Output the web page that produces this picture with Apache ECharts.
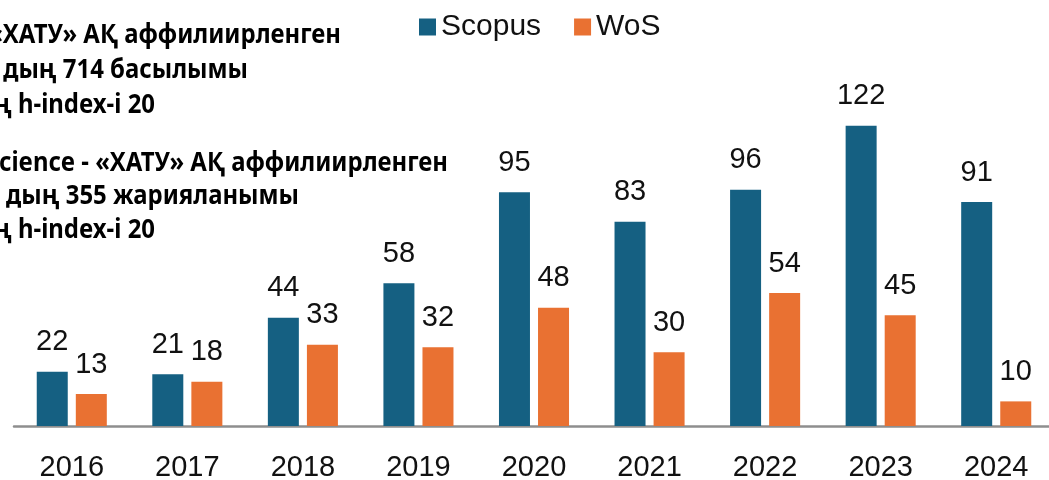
<!DOCTYPE html>
<html>
<head>
<meta charset="utf-8">
<script src="https://cdn.jsdelivr.net/npm/echarts@6/dist/echarts.min.js"></script>
<style>
  html, body { margin: 0; padding: 0; background: #fff; }
  #chart { width: 1049px; height: 480px; }
</style>
</head>
<body>
<div id="chart"></div>
<script>
var years = ["2016", "2017", "2018", "2019", "2020", "2021", "2022", "2023", "2024"];
var scopus = [22, 21, 44, 58, 95, 83, 96, 122, 91];
var wos = [13, 18, 33, 32, 48, 30, 54, 45, 10];

// text block on the left (cut off at the left edge in the original)
var noteScopus = ["«ХАТУ» АҚ аффилиирленген", "дың 714 басылымы", "ң h-index-i 20"];
var noteWos = ["cience - «ХАТУ» АҚ аффилиирленген", "дың 355 жарияланымы", "ң h-index-i 20"];

var chart = echarts.init(document.getElementById("chart"));

function noteText(text, right, y) {
  return {
    type: "text",
    x: right,
    y: y,
    scaleX: 0.92,
    style: {
      text: text,
      font: 'bold 26px "Noto Sans"',
      fill: "#000",
      textAlign: "right",
      align: "right",
      textVerticalAlign: "middle",
      verticalAlign: "middle"
    }
  };
}

var labelStyle = {
  show: true,
  position: "top",
  distance: 15,
  fontSize: 29,
  fontFamily: "Liberation Sans",
  color: "#111"
};

var option = {
  animation: false,
  textStyle: { fontFamily: "Liberation Sans" },
  legend: {
    left: 419,
    top: 12,
    padding: 0,
    itemWidth: 17,
    itemHeight: 17,
    itemGap: 33,
    icon: "rect",
    textStyle: { fontSize: 30, color: "#111", fontFamily: "Liberation Sans" },
    data: ["Scopus", "WoS"]
  },
  grid: {
    left: 14, right: -5, top: 81.4, bottom: 54,
    containLabel: false,
    outerBoundsMode: "none"
  },
  xAxis: {
    type: "category",
    data: years,
    axisLine: { lineStyle: { color: "#8e8e8e", width: 2.5 } },
    axisTick: { show: false },
    axisLabel: { fontSize: 29, color: "#111", margin: 27, fontFamily: "Liberation Sans" }
  },
  yAxis: {
    type: "value",
    min: 0,
    max: 140,
    show: false,
    splitLine: { show: false }
  },
  series: [
    {
      name: "Scopus",
      type: "bar",
      data: scopus,
      barWidth: 31,
      barGap: "26%",
      itemStyle: { color: "#156082" },
      label: labelStyle
    },
    {
      name: "WoS",
      type: "bar",
      data: wos,
      barWidth: 31,
      itemStyle: { color: "#E97132" },
      label: labelStyle
    }
  ],
  graphic: [
    noteText(noteScopus[0], 341, 36),
    noteText(noteScopus[1], 248, 71),
    noteText(noteScopus[2], 155, 106),
    noteText(noteWos[0], 448, 164),
    noteText(noteWos[1], 299, 197),
    noteText(noteWos[2], 155, 231)
  ]
};

chart.setOption(option);
</script>
</body>
</html>
